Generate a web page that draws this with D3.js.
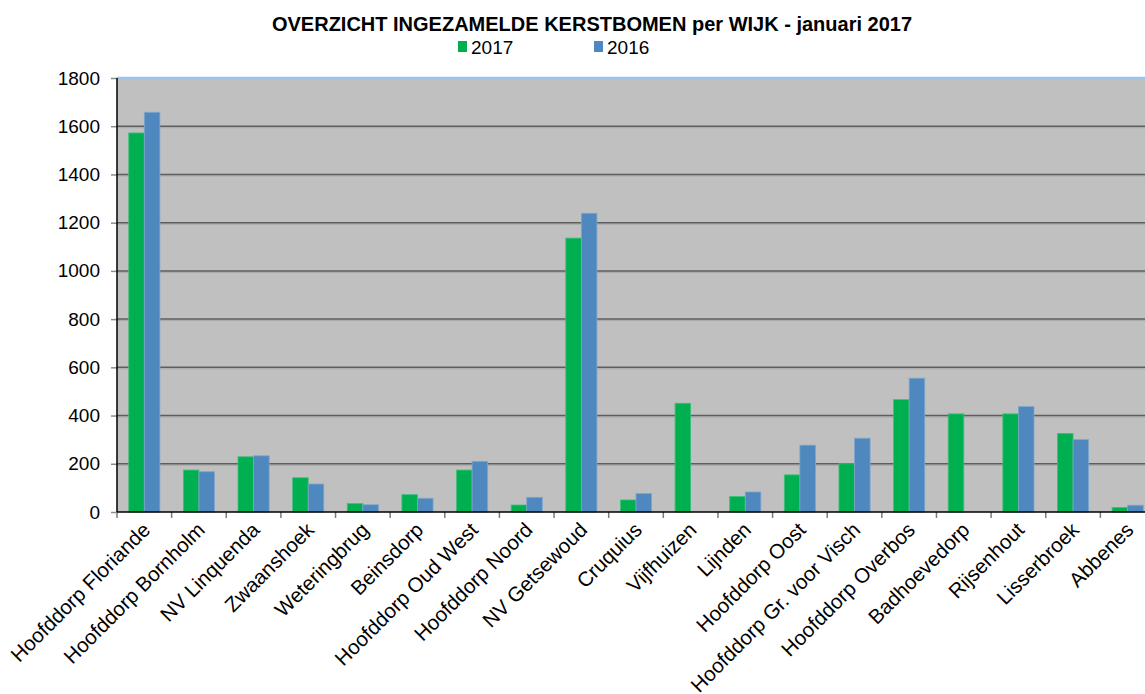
<!DOCTYPE html>
<html>
<head>
<meta charset="utf-8">
<script src="https://cdn.jsdelivr.net/npm/d3@7"></script>
<style>
  body { margin: 0; background: #fff; }
  svg { display: block; font-family: "Liberation Sans", Arial, sans-serif; }
  .y-lab, .leg-lab { font-size: 19px; fill: #000; }
  .x-lab { font-size: 20.5px; fill: #000; }
  .title { font-size: 20px; font-weight: bold; fill: #000; }
</style>
</head>
<body>
<div id="chart"></div>
<script>
/* data */
var wijken = [
  'Hoofddorp Floriande', 'Hoofddorp Bornholm', 'NV Linquenda', 'Zwaanshoek',
  'Weteringbrug', 'Beinsdorp', 'Hoofddorp Oud West', 'Hoofddorp Noord',
  'NV Getsewoud', 'Cruquius', 'Vijfhuizen', 'Lijnden', 'Hoofddorp Oost',
  'Hoofddorp Gr. voor Visch', 'Hoofddorp Overbos', 'Badhoevedorp',
  'Rijsenhout', 'Lisserbroek', 'Abbenes'
];
var jaren = ['2017', '2016'];
var values2017 = [1572, 174, 229, 142, 35, 72, 174, 29, 1136, 50, 451, 64, 154, 200, 466, 407, 407, 326, 19];
var values2016 = [1658, 167, 233, 116, 30, 57, 210, 61, 1239, 77, 0, 83, 277, 306, 555, 0, 437, 300, 28];
var yTicks = [0, 200, 400, 600, 800, 1000, 1200, 1400, 1600, 1800];
var colors = { '2017': '#00b050', '2016': '#4f88be' };

var W = 1145, H = 694;
var margin = { top: 78, left: 117, bottom: 182 };
var plotW = 1038;                       // plot runs past the right edge, as in the picture
var plotH = H - margin.top - margin.bottom;

var svg = d3.select('#chart').append('svg')
  .attr('width', W).attr('height', H);

/* title + legend */
svg.append('text')
  .attr('class', 'title')
  .attr('x', 592).attr('y', 31)
  .attr('text-anchor', 'middle')
  .text('OVERZICHT INGEZAMELDE KERSTBOMEN per WIJK - januari 2017');

var leg = svg.selectAll('g.leg')
  .data(jaren)
  .join('g')
  .attr('class', 'leg')
  .attr('transform', function (d, i) { return 'translate(' + (458 + i * 136) + ',0)'; });
leg.append('rect')
  .attr('x', 0).attr('y', 41).attr('width', 9).attr('height', 11)
  .attr('fill', function (d) { return colors[d]; });
leg.append('text')
  .attr('class', 'leg-lab')
  .attr('x', 13).attr('y', 54)
  .text(function (d) { return d; });

var chart = svg.append('g')
  .attr('transform', 'translate(' + margin.left + ',' + margin.top + ')');

var x0 = d3.scaleBand()
  .domain(wijken)
  .range([0, plotW])
  .paddingInner(0.43)
  .paddingOuter(0.215);

var x1 = d3.scaleBand()
  .domain(jaren)
  .range([0, x0.bandwidth()]);

var y = d3.scaleLinear()
  .domain([0, 1800])
  .range([plotH, 0]);

/* plot background */
chart.append('rect')
  .attr('x', 0).attr('y', 0)
  .attr('width', plotW).attr('height', plotH)
  .attr('fill', '#c0c0c0');

/* grid lines */
chart.selectAll('.grid-shadow')
  .data(yTicks.slice(1, -1))
  .join('line')
  .attr('x1', 0).attr('x2', plotW)
  .attr('y1', function (d) { return y(d) + 1.5; })
  .attr('y2', function (d) { return y(d) + 1.5; })
  .attr('stroke', '#a8a8a8')
  .attr('stroke-width', 1);

chart.selectAll('.grid-line')
  .data(yTicks.slice(1, -1))
  .join('line')
  .attr('x1', 0).attr('x2', plotW)
  .attr('y1', function (d) { return y(d); })
  .attr('y2', function (d) { return y(d); })
  .attr('stroke', '#5e5e5e')
  .attr('stroke-width', 1.5);

/* top border */
chart.append('line')
  .attr('x1', 0).attr('x2', plotW)
  .attr('y1', 0).attr('y2', 0)
  .attr('stroke', '#9dc3ee')
  .attr('stroke-width', 2.5);

/* bars */
var rows = wijken.map(function (w, i) {
  return { wijk: w, vals: [{ jaar: '2017', v: values2017[i] }, { jaar: '2016', v: values2016[i] }] };
});

var groups = chart.selectAll('g.bar-g')
  .data(rows)
  .join('g')
  .attr('class', 'bar-g')
  .attr('transform', function (d) { return 'translate(' + x0(d.wijk) + ',0)'; });

groups.selectAll('rect')
  .data(function (d) { return d.vals.filter(function (e) { return e.v > 0; }); })
  .join('rect')
  .attr('x', function (d) { return x1(d.jaar); })
  .attr('y', function (d) { return y(d.v); })
  .attr('width', x1.bandwidth())
  .attr('height', function (d) { return y(0) - y(d.v); })
  .attr('fill', function (d) { return colors[d.jaar]; })
  .attr('stroke', function (d) { return d.jaar === '2017' ? '#3fbf7a' : '#7fa6cc'; })
  .attr('stroke-width', 0.8);

/* y axis */
var yAxis = chart.append('g')
  .call(d3.axisLeft(y).tickValues(yTicks).tickSize(6).tickPadding(11).tickFormat(d3.format('d')));
yAxis.select('.domain').remove();
yAxis.selectAll('line').attr('stroke', '#8c8c8c').attr('stroke-width', 1.5);
yAxis.selectAll('text').attr('class', 'y-lab').attr('font-size', null).attr('font-family', null);

chart.append('line')
  .attr('x1', 0).attr('x2', 0)
  .attr('y1', 0).attr('y2', plotH)
  .attr('stroke', '#000')
  .attr('stroke-width', 1.5);

/* x axis: ticks between categories */
var step = x0.step();
chart.selectAll('.x-tick')
  .data(d3.range(wijken.length + 1))
  .join('line')
  .attr('x1', function (i) { return i * step; })
  .attr('x2', function (i) { return i * step; })
  .attr('y1', plotH).attr('y2', plotH + 6)
  .attr('stroke', '#7a7a7a')
  .attr('stroke-width', 1.5);

chart.append('line')
  .attr('x1', 0).attr('x2', plotW)
  .attr('y1', plotH).attr('y2', plotH)
  .attr('stroke', '#000')
  .attr('stroke-width', 1.5);

chart.selectAll('.x-lab')
  .data(wijken)
  .join('text')
  .attr('class', 'x-lab')
  .attr('text-anchor', 'end')
  .attr('transform', function (d) {
    return 'translate(' + (x0(d) + x0.bandwidth() / 2 - 3) + ',' + (plotH + 9) + ') rotate(-45)';
  })
  .attr('dy', '0.7em')
  .text(function (d) { return d; });
</script>
</body>
</html>
